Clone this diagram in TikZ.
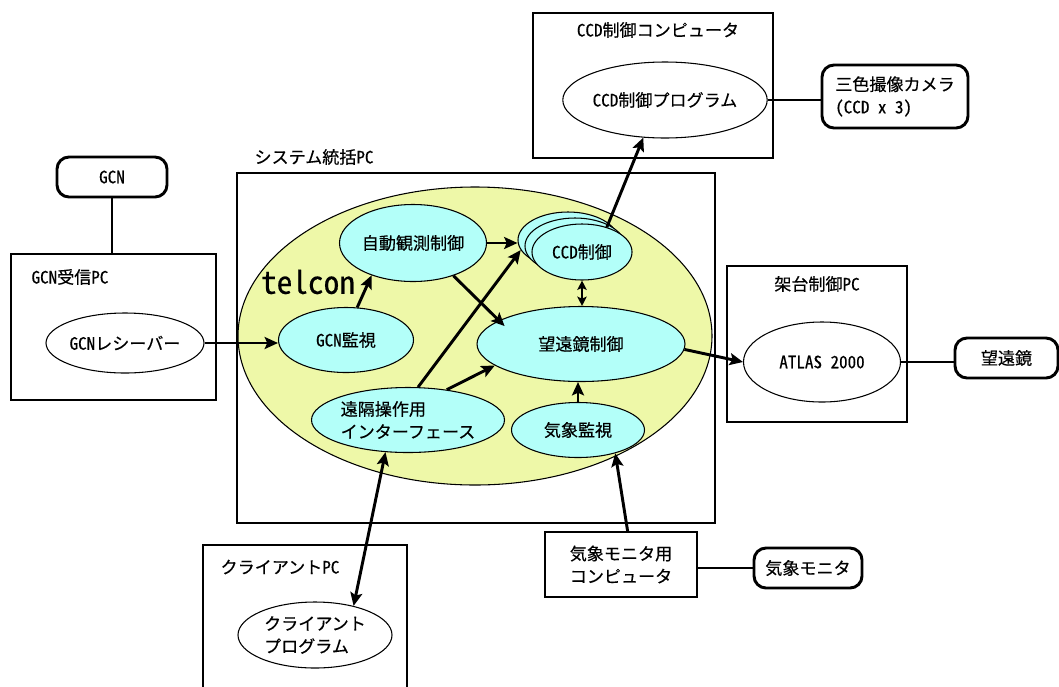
\documentclass[tikz,border=0pt]{standalone}
\usepackage{fontspec}
\setmainfont{Noto Sans CJK JP}[RawFeature=+hwid, FakeBold=0.4]
\usetikzlibrary{shapes.geometric,arrows.meta,calc}
\definecolor{tyellow}{RGB}{238,248,168}
\definecolor{tcyan}{RGB}{179,255,249}
\begin{document}
\begin{tikzpicture}[x=0.75pt,y=-0.75pt,
 every node/.style={font=\fontsize{12.8}{17}\selectfont},
 box/.style={draw, line width=0.9pt, rectangle, inner sep=0pt},
 term/.style={draw, line width=2.2pt, rounded corners=9pt, inner sep=0pt},
 ell/.style={draw, ellipse, line width=0.8pt, inner sep=0pt},
 cell/.style={ell, fill=tcyan},
 lbl/.style={inner sep=0pt},
 tip/.tip={Stealth[length=10pt,width=9pt,inset=2pt]},
 stip/.tip={Stealth[length=7pt,width=7pt,inset=1.5pt]},
 arr/.style={line width=2.2pt, -tip},
 darr/.style={line width=2.2pt, tip-tip},
 link/.style={line width=2.2pt},
]
\useasboundingbox (0,0) rectangle (1059,686);
\clip (0,0) rectangle (1059,686);

% CCD computer
\node[box, minimum width=180pt, minimum height=108.75pt] (ccdpc) at (653,85.5) {};
\node[lbl] (ccdpcl) at (658,30) {CCD制御コンピュータ};
\node[ell, minimum width=150pt, minimum height=57pt] (ccdprog) at (665,100) {CCD制御プログラム};
\node[term, minimum width=109.5pt, minimum height=47.25pt, align=left] (camera) at (895,96.5) {三色撮像カメラ\\（CCD x 3）};

% system PC
\node[lbl] (syspcl) at (314,157) {システム統括PC};
\node[box, minimum width=358.5pt, minimum height=262.5pt] (syspc) at (476,348) {};
\node[ell, fill=tyellow, minimum width=355.5pt, minimum height=223.5pt] (telcon) at (475,336) {};
\node[lbl, font=\fontsize{23.5}{25}\selectfont] (telconl) at (308,282) {telcon};
\node[cell, minimum width=110.25pt, minimum height=57.75pt] (auto) at (413,243) {自動観測制御};
\node[cell, minimum width=101.25pt, minimum height=48.75pt] (gcnmon) at (346,340) {GCN監視};
\node[cell, minimum width=75pt, minimum height=42pt] (ccdback) at (568,240) {};
\node[cell, minimum width=75pt, minimum height=42pt] (ccdmid) at (575,246) {};
\node[cell, minimum width=75pt, minimum height=42pt] (ccdfront) at (582,252) {CCD制御};
\node[cell, minimum width=156pt, minimum height=56.25pt] (tele) at (581,344) {望遠鏡制御};
\node[cell, minimum width=144.75pt, minimum height=48.75pt, align=left] (remote) at (408,420) {遠隔操作用\\インターフェース};
\node[cell, minimum width=99.75pt, minimum height=41.25pt] (weather) at (578,430) {気象監視};

% GCN
\node[term, minimum width=82.5pt, minimum height=30pt] (gcn) at (112,177) {GCN};
\node[box, minimum width=153.75pt, minimum height=109.5pt] (gcnpc) at (113.5,327) {};
\node[lbl] (gcnpcl) at (70,277) {GCN受信PC};
\node[ell, minimum width=118.5pt, minimum height=45pt] (gcnrecv) at (125,343) {GCNレシーバー};

% mount PC
\node[box, minimum width=135pt, minimum height=117pt] (mountpc) at (817,344) {};
\node[lbl] (mountpcl) at (817,284) {架台制御PC};
\node[ell, minimum width=117.75pt, minimum height=60pt] (atlas) at (822,362) {ATLAS 2000};
\node[term, minimum width=77.25pt, minimum height=30pt] (scope) at (1006.5,358) {望遠鏡};

% weather
\node[box, minimum width=114pt, minimum height=48.75pt, align=left] (wxpc) at (621,564.5) {気象モニタ用\\コンピュータ};
\node[term, minimum width=81pt, minimum height=30pt] (wxmon) at (808,568) {気象モニタ};

% client
\node[box, minimum width=153pt, minimum height=112.5pt] (clientpc) at (305,620) {};
\node[lbl] (clientpcl) at (280,567) {クライアントPC};
\node[ell, minimum width=115.5pt, minimum height=49.5pt, align=left] (clientprog) at (315,635) {クライアント\\プログラム};

% connectors
\draw[link] (gcn.south) -- (gcn.south |- gcnpc.north);
\draw[arr] (gcnrecv.east) -- (gcnrecv.east -| gcnmon.west);
\draw[arr] (gcnmon.71) -- (auto.218);
\draw[arr] (auto.east) -- (auto.east -| ccdback.west);
\draw[arr, shorten >=-6pt] (auto.-39) -- (tele.164);
\draw[arr] (remote.73) -- (ccdback.192);
\draw[arr] (remote.38) -- (tele.194);
\draw[line width=2.2pt, stip-stip] (ccdfront.south) -- (ccdfront.south |- tele.north);
\draw[arr] (weather.north) -- (weather.north |- tele.south);
\draw[arr] (tele.-3) -- (atlas.west);
\draw[arr] (ccdfront.45) -- (ccdprog.240);
\draw[arr] ([xshift=5pt]wxpc.north) -- (weather.-32);
\draw[darr] (remote.235) -- (clientprog.37);
\draw[link] (wxmon.west -| wxpc.east) -- (wxmon.west);
\draw[link] (ccdprog.east) -- (ccdprog.east -| camera.west);
\draw[link] (atlas.east) -- (atlas.east -| scope.west);
\end{tikzpicture}
\end{document}
